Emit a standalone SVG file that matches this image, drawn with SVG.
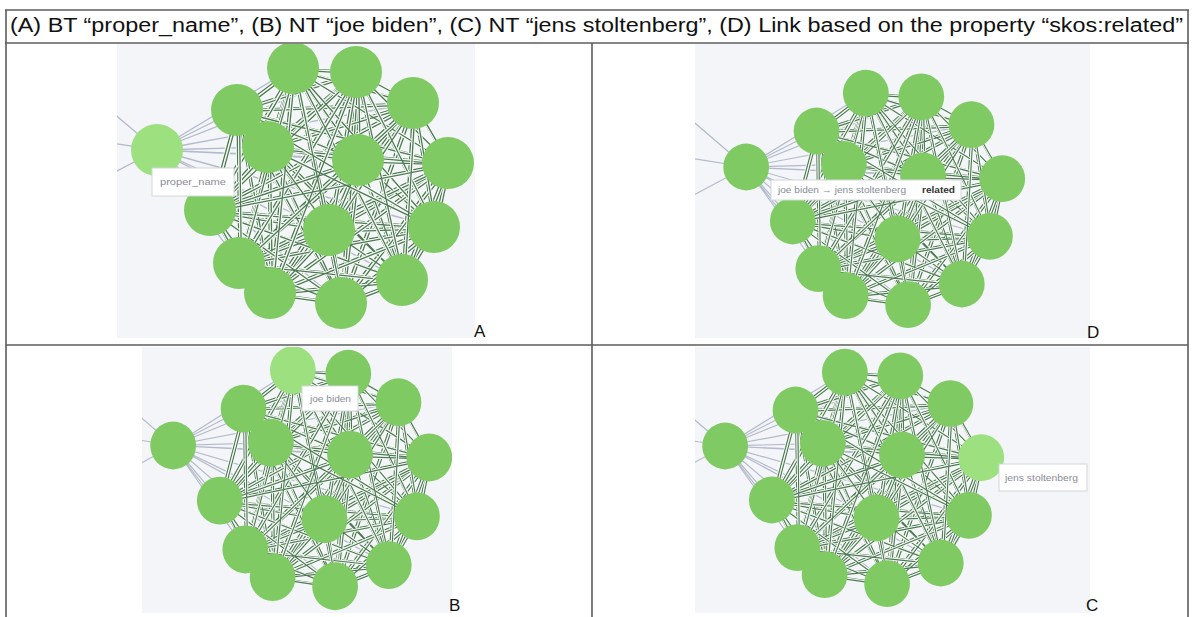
<svg xmlns="http://www.w3.org/2000/svg" xmlns:xlink="http://www.w3.org/1999/xlink" width="1192" height="617" viewBox="0 0 1192 617">
  <style>
    .grid { stroke: #5c5c5c; stroke-width: 1.6; fill: none; }
    .caption { font-family: "Liberation Sans", Arial, sans-serif; font-size: 19.5px; fill: #111; }
    .tag { font-family: "Liberation Sans", Arial, sans-serif; font-size: 17px; fill: #111; }
    .canvas { fill: #f3f5f8; }
    .bt-link { fill: none; stroke: #b3bacb; stroke-width: 1.3; }
    .halo { fill: none; stroke: #f7fbf5; stroke-width: 3.4; stroke-linejoin: round; }
    .edge { fill: none; stroke: #2f6139; stroke-width: 1.3; opacity: 0.85; stroke-linejoin: round; }
    .node circle { fill: #7fca63; }
    .node.hot circle { fill: #9ce080; }
    .tip rect { fill: #ffffff; stroke: #d4d6da; stroke-width: 1; }
    .tip text { font-family: "Liberation Sans", Arial, sans-serif; font-size: 9px; fill: #8a8c98; }
    .tip text.strong { font-weight: bold; fill: #333; }
  </style>
  <defs>
    <!-- shared force layout: BT node at 157,150, fourteen narrower terms around it -->
    <path id="bt-paths" d="M157,150L293,68M157,150L356,72M157,150L413,103M157,150L237,110M157,150L268,147M157,150L358,160M157,150L448,163M157,150L210,210M157,150L329,230M157,150L434,227M157,150L239,263M157,150L402,280M157,150L270,293M157,150L341,303M157,150L95,98M157,150L92,140M157,150L96,182"/>
    <!-- complete graph between the narrower terms, split into seven zigzag paths -->
    <path id="m0" d="M293,68L356,72L341,303L413,103L270,293L237,110L402,280L268,147L239,263L358,160L434,227L448,163L329,230L210,210"/>
    <path id="m1" d="M356,72L413,103L293,68L237,110L341,303L268,147L270,293L358,160L402,280L448,163L239,263L210,210L434,227L329,230"/>
    <path id="m2" d="M413,103L237,110L356,72L268,147L293,68L358,160L341,303L448,163L270,293L210,210L402,280L329,230L239,263L434,227"/>
    <path id="m3" d="M237,110L268,147L413,103L358,160L356,72L448,163L293,68L210,210L341,303L329,230L270,293L434,227L402,280L239,263"/>
    <path id="m4" d="M268,147L358,160L237,110L448,163L413,103L210,210L356,72L329,230L293,68L434,227L341,303L239,263L270,293L402,280"/>
    <path id="m5" d="M358,160L448,163L268,147L210,210L237,110L329,230L413,103L434,227L356,72L239,263L293,68L402,280L341,303L270,293"/>
    <path id="m6" d="M448,163L210,210L358,160L329,230L268,147L434,227L237,110L239,263L413,103L402,280L356,72L270,293L293,68L341,303"/>
    <!-- each stroke gets a pale casing so later links cut through earlier ones -->
    <g id="mesh-pass">
      <use xlink:href="#m0" class="halo"/><use xlink:href="#m0" class="edge"/>
      <use xlink:href="#m1" class="halo"/><use xlink:href="#m1" class="edge"/>
      <use xlink:href="#m2" class="halo"/><use xlink:href="#m2" class="edge"/>
      <use xlink:href="#m3" class="halo"/><use xlink:href="#m3" class="edge"/>
      <use xlink:href="#m4" class="halo"/><use xlink:href="#m4" class="edge"/>
      <use xlink:href="#m5" class="halo"/><use xlink:href="#m5" class="edge"/>
      <use xlink:href="#m6" class="halo"/><use xlink:href="#m6" class="edge"/>
    </g>
    <!-- links run both ways, so the return direction sits just beside the first -->
    <g id="mesh">
      <use xlink:href="#mesh-pass"/>
      <use xlink:href="#mesh-pass" transform="translate(2.4,1.8)"/>
    </g>
    <clipPath id="clip-a"><rect x="117" y="44" width="358" height="294"/></clipPath>
    <clipPath id="clip-d"><rect x="695" y="44" width="395" height="294"/></clipPath>
    <clipPath id="clip-b"><rect x="142" y="347" width="310" height="266"/></clipPath>
    <clipPath id="clip-c"><rect x="695" y="347" width="395" height="266"/></clipPath>
  </defs>

  <rect width="1192" height="617" fill="#ffffff"/>

  <!-- table frame -->
  <g id="table">
    <line class="grid" x1="5" y1="10" x2="1189" y2="10"/>
    <line class="grid" x1="5" y1="43" x2="1189" y2="43"/>
    <line class="grid" x1="6" y1="10" x2="6" y2="617"/>
    <line class="grid" x1="1188" y1="10" x2="1188" y2="617"/>
    <line class="grid" x1="592" y1="43" x2="592" y2="617"/>
    <line class="grid" x1="6" y1="345" x2="1188" y2="345"/>
    <text class="caption" x="10" y="32" textLength="1173" lengthAdjust="spacingAndGlyphs">(A) BT “proper_name”, (B) NT “joe biden”, (C) NT “jens stoltenberg”, (D) Link based on the property “skos:related”</text>
  </g>

  <!-- A: broader term proper_name -->
  <g id="panel-a">
    <rect class="canvas" x="117" y="44" width="358" height="294"/>
    <g clip-path="url(#clip-a)">
      <g transform="translate(0,0)">
        <g class="links">
          <use xlink:href="#bt-paths" class="bt-link"/>
          <use xlink:href="#mesh"/>
        </g>
        <g id="a-n0" class="node"><circle cx="293" cy="68" r="26"/></g>
        <g id="a-n1" class="node"><circle cx="356" cy="72" r="26"/></g>
        <g id="a-n2" class="node"><circle cx="413" cy="103" r="26"/></g>
        <g id="a-n3" class="node"><circle cx="237" cy="110" r="26"/></g>
        <g id="a-n4" class="node"><circle cx="268" cy="147" r="26"/></g>
        <g id="a-n5" class="node"><circle cx="358" cy="160" r="26"/></g>
        <g id="a-n6" class="node"><circle cx="448" cy="163" r="26"/></g>
        <g id="a-n7" class="node"><circle cx="210" cy="210" r="26"/></g>
        <g id="a-n8" class="node"><circle cx="329" cy="230" r="26"/></g>
        <g id="a-n9" class="node"><circle cx="434" cy="227" r="26"/></g>
        <g id="a-n10" class="node"><circle cx="239" cy="263" r="26"/></g>
        <g id="a-n11" class="node"><circle cx="402" cy="280" r="26"/></g>
        <g id="a-n12" class="node"><circle cx="270" cy="293" r="26"/></g>
        <g id="a-n13" class="node"><circle cx="341" cy="303" r="26"/></g>
        <g id="a-bt" class="node hot"><circle cx="157" cy="150" r="26"/></g>
      </g>
    </g>
    <g class="tip">
      <rect x="152" y="168" width="82" height="28"/>
      <text x="160" y="185" textLength="66" lengthAdjust="spacingAndGlyphs">proper_name</text>
    </g>
    <text class="tag" x="474" y="337">A</text>
  </g>

  <!-- D: skos:related link -->
  <g id="panel-d">
    <rect class="canvas" x="695" y="44" width="395" height="294"/>
    <g clip-path="url(#clip-d)">
      <g transform="translate(608,32) scale(0.88,0.9)">
        <g class="links">
          <use xlink:href="#bt-paths" class="bt-link"/>
          <use xlink:href="#mesh"/>
        </g>
        <g id="d-n0" class="node"><circle cx="293" cy="68" r="26"/></g>
        <g id="d-n1" class="node"><circle cx="356" cy="72" r="26"/></g>
        <g id="d-n2" class="node"><circle cx="413" cy="103" r="26"/></g>
        <g id="d-n3" class="node"><circle cx="237" cy="110" r="26"/></g>
        <g id="d-n4" class="node"><circle cx="268" cy="147" r="26"/></g>
        <g id="d-n5" class="node"><circle cx="358" cy="160" r="26"/></g>
        <g id="d-n6" class="node"><circle cx="448" cy="163" r="26"/></g>
        <g id="d-n7" class="node"><circle cx="210" cy="210" r="26"/></g>
        <g id="d-n8" class="node"><circle cx="329" cy="230" r="26"/></g>
        <g id="d-n9" class="node"><circle cx="434" cy="227" r="26"/></g>
        <g id="d-n10" class="node"><circle cx="239" cy="263" r="26"/></g>
        <g id="d-n11" class="node"><circle cx="402" cy="280" r="26"/></g>
        <g id="d-n12" class="node"><circle cx="270" cy="293" r="26"/></g>
        <g id="d-n13" class="node"><circle cx="341" cy="303" r="26"/></g>
        <g id="d-bt" class="node"><circle cx="157" cy="150" r="26"/></g>
      </g>
    </g>
    <g class="tip">
      <rect x="771" y="180" width="190" height="20"/>
      <text x="778" y="193" textLength="128" lengthAdjust="spacingAndGlyphs">joe biden → jens stoltenberg</text>
      <text class="strong" x="922" y="193" textLength="33" lengthAdjust="spacingAndGlyphs">related</text>
    </g>
    <text class="tag" x="1087" y="338">D</text>
  </g>

  <!-- B: narrower term joe biden -->
  <g id="panel-b">
    <rect class="canvas" x="142" y="347" width="310" height="266"/>
    <g clip-path="url(#clip-b)">
      <g transform="translate(35,307.5) scale(0.88,0.92)">
        <g class="links">
          <use xlink:href="#bt-paths" class="bt-link"/>
          <use xlink:href="#mesh"/>
        </g>
        <g id="b-n0" class="node hot"><circle cx="293" cy="68" r="26"/></g>
        <g id="b-n1" class="node"><circle cx="356" cy="72" r="26"/></g>
        <g id="b-n2" class="node"><circle cx="413" cy="103" r="26"/></g>
        <g id="b-n3" class="node"><circle cx="237" cy="110" r="26"/></g>
        <g id="b-n4" class="node"><circle cx="268" cy="147" r="26"/></g>
        <g id="b-n5" class="node"><circle cx="358" cy="160" r="26"/></g>
        <g id="b-n6" class="node"><circle cx="448" cy="163" r="26"/></g>
        <g id="b-n7" class="node"><circle cx="210" cy="210" r="26"/></g>
        <g id="b-n8" class="node"><circle cx="329" cy="230" r="26"/></g>
        <g id="b-n9" class="node"><circle cx="434" cy="227" r="26"/></g>
        <g id="b-n10" class="node"><circle cx="239" cy="263" r="26"/></g>
        <g id="b-n11" class="node"><circle cx="402" cy="280" r="26"/></g>
        <g id="b-n12" class="node"><circle cx="270" cy="293" r="26"/></g>
        <g id="b-n13" class="node"><circle cx="341" cy="303" r="26"/></g>
        <g id="b-bt" class="node"><circle cx="157" cy="150" r="26"/></g>
      </g>
    </g>
    <g class="tip">
      <rect x="302" y="386" width="56" height="25"/>
      <text x="310" y="402" textLength="41" lengthAdjust="spacingAndGlyphs">joe biden</text>
    </g>
    <text class="tag" x="449" y="611">B</text>
  </g>

  <!-- C: narrower term jens stoltenberg -->
  <g id="panel-c">
    <rect class="canvas" x="695" y="347" width="395" height="266"/>
    <g clip-path="url(#clip-c)">
      <g transform="translate(587,311) scale(0.88,0.9)">
        <g class="links">
          <use xlink:href="#bt-paths" class="bt-link"/>
          <use xlink:href="#mesh"/>
        </g>
        <g id="c-n0" class="node"><circle cx="293" cy="68" r="26"/></g>
        <g id="c-n1" class="node"><circle cx="356" cy="72" r="26"/></g>
        <g id="c-n2" class="node"><circle cx="413" cy="103" r="26"/></g>
        <g id="c-n3" class="node"><circle cx="237" cy="110" r="26"/></g>
        <g id="c-n4" class="node"><circle cx="268" cy="147" r="26"/></g>
        <g id="c-n5" class="node"><circle cx="358" cy="160" r="26"/></g>
        <g id="c-n6" class="node hot"><circle cx="448" cy="163" r="26"/></g>
        <g id="c-n7" class="node"><circle cx="210" cy="210" r="26"/></g>
        <g id="c-n8" class="node"><circle cx="329" cy="230" r="26"/></g>
        <g id="c-n9" class="node"><circle cx="434" cy="227" r="26"/></g>
        <g id="c-n10" class="node"><circle cx="239" cy="263" r="26"/></g>
        <g id="c-n11" class="node"><circle cx="402" cy="280" r="26"/></g>
        <g id="c-n12" class="node"><circle cx="270" cy="293" r="26"/></g>
        <g id="c-n13" class="node"><circle cx="341" cy="303" r="26"/></g>
        <g id="c-bt" class="node"><circle cx="157" cy="150" r="26"/></g>
      </g>
    </g>
    <g class="tip">
      <rect x="999" y="464" width="88" height="27"/>
      <text x="1005" y="481" textLength="73" lengthAdjust="spacingAndGlyphs">jens stoltenberg</text>
    </g>
    <text class="tag" x="1086" y="611">C</text>
  </g>
</svg>
